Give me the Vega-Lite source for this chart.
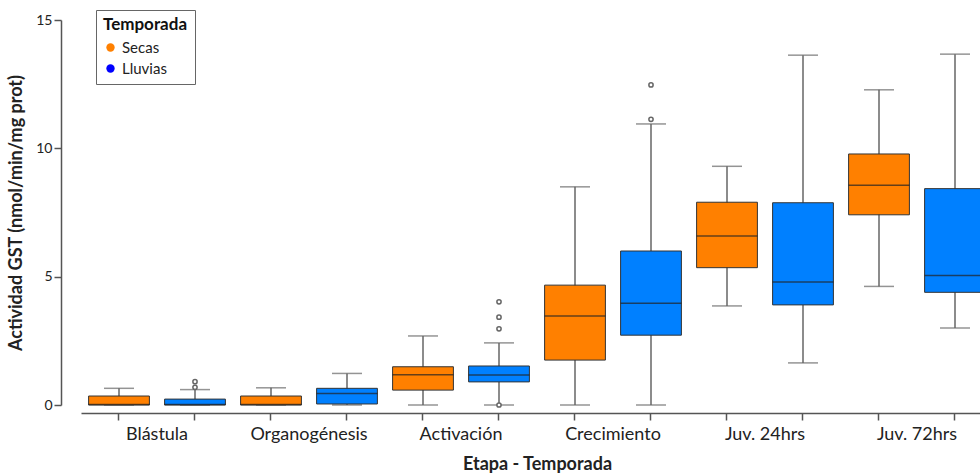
{
  "$schema": "https://vega.github.io/schema/vega-lite/v6.json",
  "width": 912,
  "height": 385,
  "autosize": {"type": "none"},
  "padding": {"left": 81, "top": 20, "right": 0, "bottom": 71},
  "background": "white",
  "config": {
    "view": {"stroke": null},
    "font": "Lato",
    "axis": {"grid": false, "domainColor": "#555", "tickColor": "#555", "labelColor": "#222", "titleColor": "#222", "labelFont": "Lato", "titleFont": "Lato"}
  },
  "datasets": {
    "cajas": [
      {"grupo": "Blástula|Secas", "Etapa": "Blástula", "Temporada": "Secas", "min": 0, "q1": 0, "mediana": 0.02, "q3": 0.35, "max": 0.65},
      {"grupo": "Blástula|Lluvias", "Etapa": "Blástula", "Temporada": "Lluvias", "min": 0, "q1": 0, "mediana": 0.02, "q3": 0.23, "max": 0.6},
      {"grupo": "Organogénesis|Secas", "Etapa": "Organogénesis", "Temporada": "Secas", "min": 0, "q1": 0, "mediana": 0.02, "q3": 0.35, "max": 0.67},
      {"grupo": "Organogénesis|Lluvias", "Etapa": "Organogénesis", "Temporada": "Lluvias", "min": 0, "q1": 0.04, "mediana": 0.45, "q3": 0.65, "max": 1.23},
      {"grupo": "Activación|Secas", "Etapa": "Activación", "Temporada": "Secas", "min": 0, "q1": 0.58, "mediana": 1.18, "q3": 1.49, "max": 2.69},
      {"grupo": "Activación|Lluvias", "Etapa": "Activación", "Temporada": "Lluvias", "min": 0, "q1": 0.9, "mediana": 1.17, "q3": 1.52, "max": 2.42},
      {"grupo": "Crecimiento|Secas", "Etapa": "Crecimiento", "Temporada": "Secas", "min": 0, "q1": 1.75, "mediana": 3.47, "q3": 4.67, "max": 8.5},
      {"grupo": "Crecimiento|Lluvias", "Etapa": "Crecimiento", "Temporada": "Lluvias", "min": 0, "q1": 2.72, "mediana": 3.96, "q3": 6.0, "max": 10.95},
      {"grupo": "Juv. 24hrs|Secas", "Etapa": "Juv. 24hrs", "Temporada": "Secas", "min": 3.86, "q1": 5.35, "mediana": 6.58, "q3": 7.9, "max": 9.3},
      {"grupo": "Juv. 24hrs|Lluvias", "Etapa": "Juv. 24hrs", "Temporada": "Lluvias", "min": 1.64, "q1": 3.9, "mediana": 4.79, "q3": 7.88, "max": 13.63},
      {"grupo": "Juv. 72hrs|Secas", "Etapa": "Juv. 72hrs", "Temporada": "Secas", "min": 4.62, "q1": 7.41, "mediana": 8.56, "q3": 9.78, "max": 12.28},
      {"grupo": "Juv. 72hrs|Lluvias", "Etapa": "Juv. 72hrs", "Temporada": "Lluvias", "min": 3.0, "q1": 4.39, "mediana": 5.05, "q3": 8.43, "max": 13.67}
    ],
    "atipicos": [
      {"grupo": "Blástula|Lluvias", "valor": 0.91},
      {"grupo": "Blástula|Lluvias", "valor": 0.69},
      {"grupo": "Activación|Lluvias", "valor": 4.02},
      {"grupo": "Activación|Lluvias", "valor": 3.42},
      {"grupo": "Activación|Lluvias", "valor": 2.97},
      {"grupo": "Activación|Lluvias", "valor": 0},
      {"grupo": "Crecimiento|Lluvias", "valor": 11.13},
      {"grupo": "Crecimiento|Lluvias", "valor": 12.47}
    ]
  },
  "encoding": {
    "x": {
      "field": "grupo",
      "type": "nominal",
      "scale": {
        "domain": ["Blástula|Secas", "Blástula|Lluvias", "Organogénesis|Secas", "Organogénesis|Lluvias", "Activación|Secas", "Activación|Lluvias", "Crecimiento|Secas", "Crecimiento|Lluvias", "Juv. 24hrs|Secas", "Juv. 24hrs|Lluvias", "Juv. 72hrs|Secas", "Juv. 72hrs|Lluvias"],
        "paddingInner": 0.2,
        "paddingOuter": 0.1
      },
      "axis": {
        "title": "Etapa - Temporada",
        "titleFontSize": 18,
        "titleFontWeight": "bold",
        "titlePadding": 12,
        "labelExpr": "indexof(datum.value, 'Secas') > 0 ? split(datum.value, '|')[0] : ''",
        "labelAngle": 0,
        "labelOffset": 38,
        "labelFontSize": 18,
        "labelPadding": 5,
        "tickSize": 7,
        "offset": 8,
        "domainWidth": 1.5,
        "tickWidth": 1.5
      }
    }
  },
  "layer": [
    {
      "data": {"name": "cajas"},
      "mark": {"type": "rule", "color": "#666", "strokeWidth": 1.5},
      "encoding": {
        "y": {
          "field": "min",
          "type": "quantitative",
          "scale": {"domain": [0, 15], "nice": false},
          "axis": {
            "title": "Actividad GST (nmol/min/mg prot)",
            "titleFontSize": 18,
            "titleFontWeight": "bold",
            "titlePadding": 10,
            "values": [0, 5, 10, 15],
            "labelFontSize": 14,
            "tickSize": 7,
            "offset": 20,
            "domainWidth": 1.5,
            "tickWidth": 1.5
          }
        },
        "y2": {"field": "max"}
      }
    },
    {
      "data": {"name": "cajas"},
      "mark": {"type": "tick", "color": "#666", "size": 30, "thickness": 1.5},
      "encoding": {"y": {"field": "max", "type": "quantitative"}}
    },
    {
      "data": {"name": "cajas"},
      "mark": {"type": "tick", "color": "#666", "size": 30, "thickness": 1.5},
      "encoding": {"y": {"field": "min", "type": "quantitative"}}
    },
    {
      "data": {"name": "cajas"},
      "mark": {"type": "bar", "stroke": "#333", "strokeWidth": 1},
      "encoding": {
        "y": {"field": "q1", "type": "quantitative"},
        "y2": {"field": "q3"},
        "color": {
          "field": "Temporada",
          "type": "nominal",
          "scale": {"domain": ["Secas", "Lluvias"], "range": ["#FF8000", "#0080FF"]},
          "legend": null
        }
      }
    },
    {
      "data": {"name": "cajas"},
      "mark": {"type": "tick", "color": "#222", "size": 61, "thickness": 1.5},
      "encoding": {"y": {"field": "mediana", "type": "quantitative"}}
    },
    {
      "data": {"name": "atipicos"},
      "mark": {"type": "point", "shape": "circle", "size": 18, "stroke": "#666", "strokeWidth": 1.5, "fill": "white", "filled": false, "opacity": 1},
      "encoding": {"y": {"field": "valor", "type": "quantitative"}}
    },
    {
      "data": {"name": "cajas"},
      "mark": {"type": "point", "shape": "circle", "filled": true, "opacity": 0},
      "encoding": {
        "y": {"field": "mediana", "type": "quantitative"},
        "color": {
          "field": "Temporada",
          "type": "nominal",
          "scale": {"domain": ["Secas", "Lluvias"], "range": ["#FF8000", "#0000FF"]},
          "legend": {
            "title": "Temporada",
            "orient": "none",
            "legendX": 15,
            "legendY": -10,
            "padding": 7,
            "strokeColor": "#666",
            "fillColor": "white",
            "titleFontSize": 17,
            "titleFontWeight": "bold",
            "titleColor": "#111",
            "titlePadding": 6,
            "labelFontSize": 15,
            "labelColor": "#222",
            "symbolType": "circle",
            "symbolSize": 70,
            "symbolOpacity": 1,
            "symbolStrokeWidth": 0,
            "rowPadding": 5
          }
        }
      }
    }
  ],
  "resolve": {"scale": {"color": "independent"}}
}
